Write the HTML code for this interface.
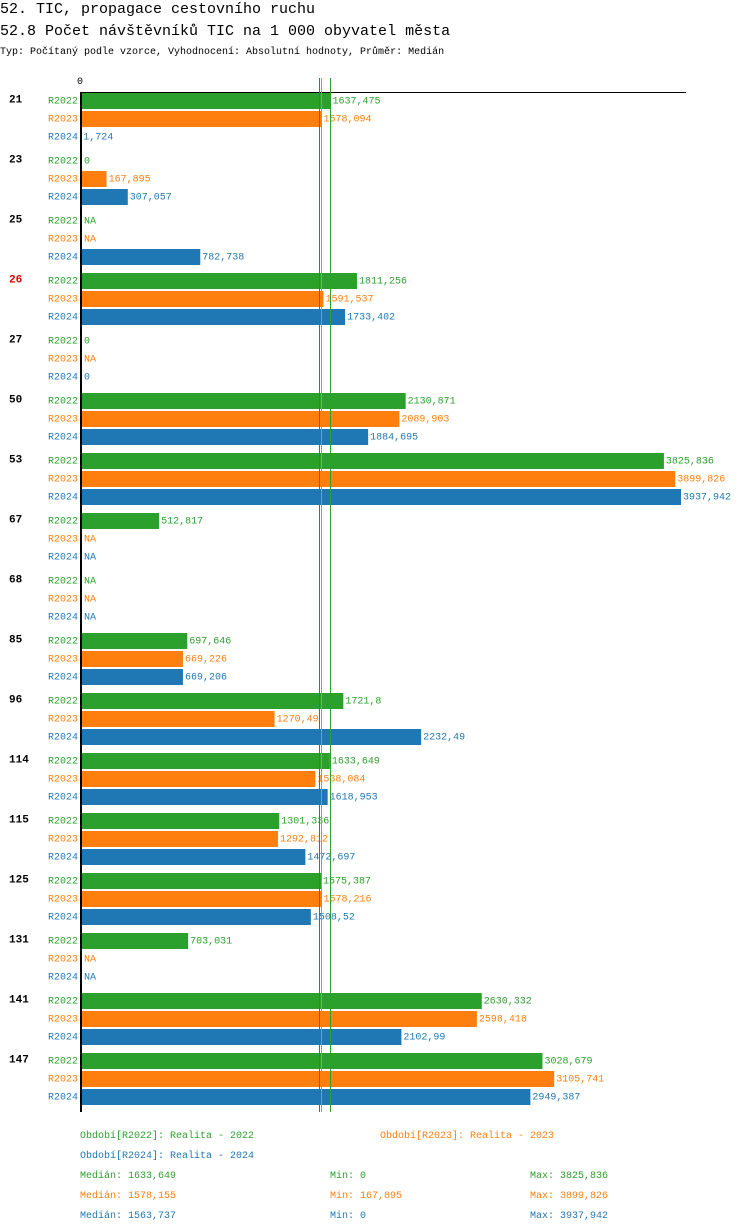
<!DOCTYPE html>
<html><head><meta charset="utf-8"><style>
body{margin:0;background:#fff;}
svg{display:block;font-family:"Liberation Mono","DejaVu Sans Mono",monospace;}
</style></head><body>
<svg id="c" width="750" height="1232">
<text x="0" y="13" font-size="15">52. TIC, propagace cestovního ruchu</text>
<text x="0" y="35" font-size="15">52.8 Počet návštěvníků TIC na 1 000 obyvatel města</text>
<text x="0" y="54" font-size="10">Typ: Počítaný podle vzorce, Vyhodnocení: Absolutní hodnoty, Průměr: Medián</text>
</svg>
<script>
const groups=["21","23","25","26","27","50","53","67","68","85","96","114","115","125","131","141","147"];
const series=["R2022","R2023","R2024"];
const v2022=[1637.475,0,null,1811.256,0,2130.871,3825.836,512.817,null,697.646,1721.8,1633.649,1301.336,1575.387,703.031,2630.332,3028.679];
const v2023=[1578.094,167.895,null,1591.537,null,2089.903,3899.826,null,null,669.226,1270.49,1538.084,1292.812,1578.216,null,2598.418,3105.741];
const v2024=[1.724,307.057,782.738,1733.402,0,1884.695,3937.942,null,null,669.206,2232.49,1618.953,1472.697,1508.52,null,2102.99,2949.387];
const medians=[1633.649,1578.155,1563.737];
const mins=[0,167.895,0];
const maxs=[3825.836,3899.826,3937.942];
const highlighted=["26"];
const colors=["#2ca02c","#ff7f0e","#1f77b4"];
const svg=document.getElementById('c');
const NS="http://www.w3.org/2000/svg";
const x0=81, scale=600/3937.942;
const xs=v=>x0+v*scale;
const top0=92, gh=60, rh=18;
function fmt(v){return v===null?"NA":String(v).replace('.',',');}
function mk(tag,attrs,txt){const e=document.createElementNS(NS,tag);for(const k in attrs)e.setAttribute(k,attrs[k]);if(txt!==undefined)e.textContent=txt;svg.appendChild(e);return e;}
const data=[v2022,v2023,v2024];
let e=mk('text',{x:77,y:84,'font-size':10},"0");


e=mk('line',{x1:80,y1:92.5,x2:686,y2:92.5,stroke:'#000','stroke-width':1});


groups.forEach((g,gi)=>{
  const gy=top0+gi*gh;
  let t=mk('text',{x:9,y:gy+10.5,'font-size':11,'font-weight':'bold',fill:highlighted.includes(g)?'#e00000':'#000'},g);
  
  
  series.forEach((s,si)=>{
    const y=gy+1+si*rh; const v=data[si][gi];
    let l=mk('text',{x:78,y:y+10.5,'font-size':10,'text-anchor':'end',fill:colors[si]},s);
    
    
    let end=x0+1;
    if(v!==null&&v>0){
      const r=mk('rect',{x:x0+1,y:y,width:Math.max(0,xs(v)-x0-1),height:16,fill:colors[si]});
      
      
      end=xs(v);
    }
    let vt=mk('text',{x:end+2,y:y+10.5,'font-size':10,fill:colors[si]},fmt(v));
    
    
  });
});
const yEnd=top0+groups.length*gh;
e=mk('rect',{x:80,y:92,width:2,height:yEnd-92,fill:'#000'});


[2,1,0].forEach(si=>{
  const x=Math.round(xs(medians[si]))+0.5;
  const m=mk('line',{x1:x,y1:78,x2:x,y2:yEnd,stroke:colors[si],'stroke-width':1});
  
  
});
const legend=[["Období[R2022]: Realita - 2022",80,1138,0],["Období[R2023]: Realita - 2023",380,1138,1],["Období[R2024]: Realita - 2024",80,1158,2]];
legend.forEach(L=>{const t=mk('text',{x:L[1],y:L[2],'font-size':10,fill:colors[L[3]]},L[0]);

});
series.forEach((s,si)=>{
  const y=1178+si*20;
  let a=mk('text',{x:80,y:y,'font-size':10,fill:colors[si]},"Medián: "+fmt(medians[si]));
  
  
  let b=mk('text',{x:330,y:y,'font-size':10,fill:colors[si]},"Min: "+fmt(mins[si]));
  
  
  let c=mk('text',{x:530,y:y,'font-size':10,fill:colors[si]},"Max: "+fmt(maxs[si]));
  
  
});
</script>
</body></html>
